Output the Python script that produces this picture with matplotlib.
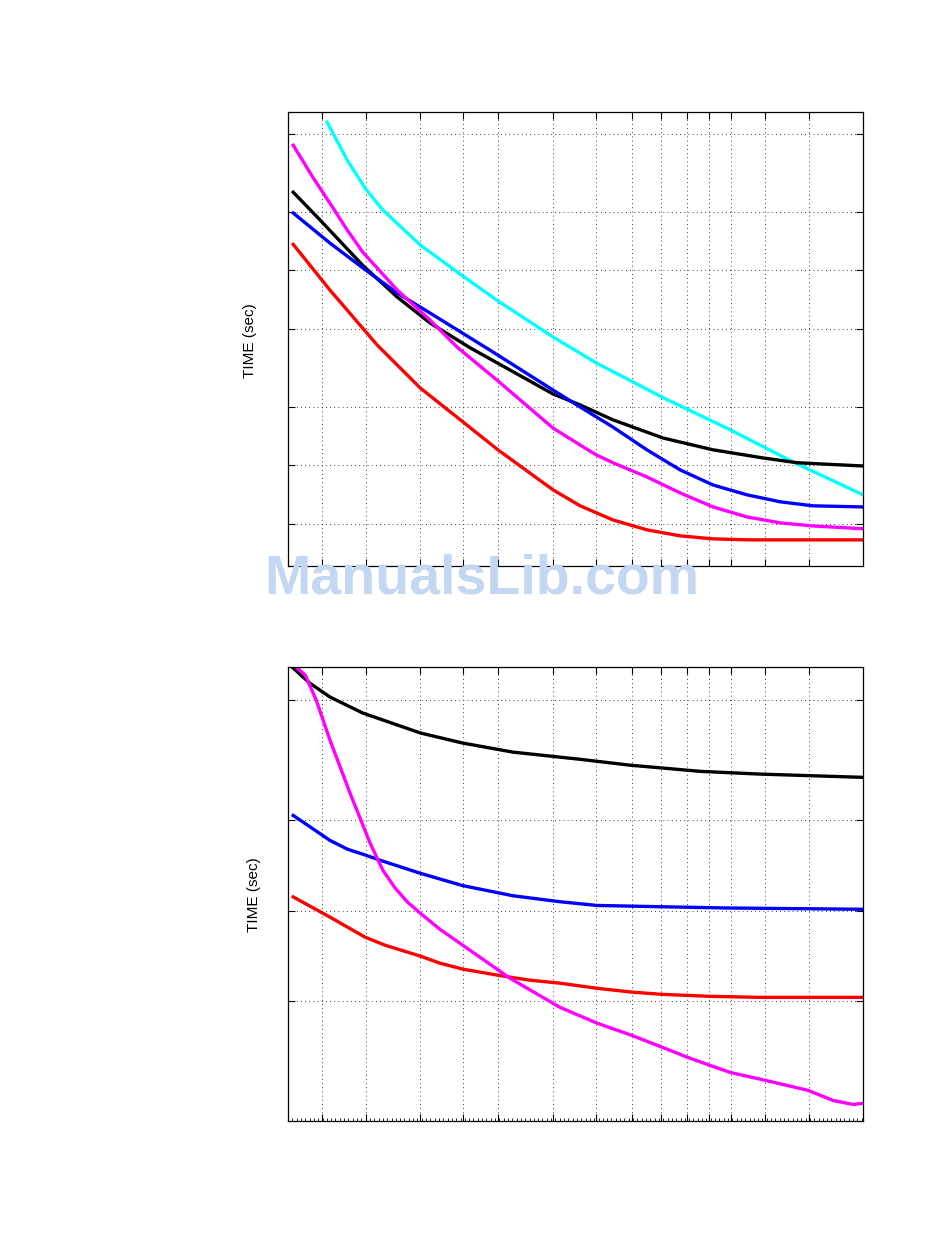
import matplotlib
matplotlib.use("Agg")
import matplotlib.pyplot as plt
from matplotlib.ticker import NullLocator, MultipleLocator

plt.rcParams["font.family"] = ["Liberation Sans", "DejaVu Sans"]

# x in arbitrary units (axis runs 0..100), y in sec on a log axis
XGRID = [5.9, 13.6, 23.0, 30.4, 36.5, 46.1, 53.6, 59.8, 64.9, 69.4, 73.2, 77.0, 83.0, 90.6]

# top panel
top_cyan_x = [6.8, 10.3, 13.4, 16.5, 23.0, 30.4, 36.3, 46.1, 53.6, 58.3, 65.0, 76.9, 87.8, 100]
top_cyan_y = [576, 368, 264, 204, 135, 93.5, 70.4, 45.5, 33.5, 28.4, 22.4, 15.2, 10.4, 7.05]

top_black_x = [0.9, 5.6, 13.0, 19.0, 24.7, 31.7, 46.1, 50.8, 56.5, 65.2, 73.9, 82.6, 88.5, 100]
top_black_y = [252, 181, 106, 72.9, 53.7, 40.0, 23.2, 20.4, 17.1, 13.8, 12.0, 10.9, 10.3, 9.91]

top_blue_x = [0.9, 7.3, 13.0, 19.0, 24.7, 35.1, 46.1, 50.8, 56.5, 62.4, 68.2, 73.9, 79.8, 85.6, 91.3, 100]
top_blue_y = [197, 138, 103, 76.5, 60.4, 39.0, 24.3, 19.9, 15.7, 12.0, 9.46, 7.92, 7.05, 6.49, 6.19, 6.11]

top_mag_x = [0.9, 4.3, 7.3, 10.3, 13.0, 19.0, 24.7, 29.4, 36.5, 46.1, 50.8, 53.6, 56.5, 62.4,
             68.2, 73.9, 79.8, 85.6, 91.3, 100]
top_mag_y = [439, 301, 221, 161, 124, 79.2, 55.6, 40.4, 27.1, 15.5, 12.7, 11.3, 10.3, 8.71,
             7.21, 6.11, 5.43, 5.06, 4.88, 4.72]

top_red_x = [0.9, 7.3, 15.5, 23.0, 30.4, 36.5, 46.1, 50.8, 56.5, 62.4, 68.2, 73.9, 79.8, 100]
top_red_y = [136, 79.2, 41.4, 24.9, 16.7, 12.0, 7.47, 6.19, 5.24, 4.66, 4.34, 4.19, 4.14, 4.14]

# bottom panel
bot_black_x = [0.9, 3.8, 7.3, 13.0, 23.0, 30.4, 39.1, 50.8, 59.5, 71.7, 82.1, 100]
bot_black_y = [63.9, 56.9, 51.2, 45.3, 38.9, 36.0, 33.6, 31.8, 30.4, 29.0, 28.4, 27.7]

bot_mag_x = [1.6, 3.0, 4.9, 7.3, 10.8, 14.3, 16.5, 18.6, 20.7, 23.0, 26.4, 30.4, 38.6, 47.3,
             53.7, 59.8, 65.0, 69.4, 73.4, 76.9, 83.0, 90.4, 94.8, 98.3, 100]
bot_mag_y = [64.0, 60.5, 50.0, 36.8, 24.5, 16.7, 13.6, 11.9, 10.7, 9.80, 8.67, 7.67, 5.96, 4.77,
             4.23, 3.85, 3.52, 3.26, 3.06, 2.90, 2.73, 2.53, 2.34, 2.27, 2.29]

bot_blue_x = [0.9, 7.3, 10.3, 13.4, 16.0, 23.0, 30.4, 39.1, 47.3, 53.7, 64.7, 76.3, 100]
bot_blue_y = [20.7, 17.1, 16.0, 15.3, 14.7, 13.3, 12.1, 11.2, 10.7, 10.4, 10.3, 10.2, 10.1]

bot_red_x = [0.9, 7.3, 13.4, 16.9, 23.0, 26.4, 30.4, 36.5, 42.1, 47.3, 53.7, 59.8, 65.0, 73.4, 82.1, 100]
bot_red_y = [11.1, 9.51, 8.16, 7.67, 7.06, 6.69, 6.39, 6.10, 5.87, 5.74, 5.52, 5.36, 5.27, 5.19, 5.15, 5.15]

TOP_YTICKS = [5, 10, 20, 50, 100, 200, 500]
BOT_YTICKS = [5, 10, 20, 50]

LW = 2.4


def style(ax, yticks, ylim, minor_x=False):
    ax.set_xlim(0, 100)
    ax.set_yscale("log")
    ax.set_ylim(*ylim)
    ax.set_xticks(XGRID)
    ax.set_yticks(yticks)
    ax.yaxis.set_minor_locator(NullLocator())
    if minor_x:
        ax.xaxis.set_minor_locator(MultipleLocator(0.75))
        ax.tick_params(axis="x", which="minor", direction="in", length=2,
                       width=0.6, top=False)
    else:
        ax.xaxis.set_minor_locator(NullLocator())
    ax.tick_params(which="major", direction="in", length=5, width=0.8,
                   top=True, right=True, labelbottom=False, labelleft=False)
    ax.grid(True, which="major", color="black", ls=(0, (1, 4)), lw=0.6)
    for s in ax.spines.values():
        s.set_linewidth(0.9)


fig = plt.figure(figsize=(9.5, 12.6), dpi=100)
ax1 = fig.add_axes([0.3032, 0.5508, 0.6053, 0.3603])
ax2 = fig.add_axes([0.3032, 0.1103, 0.6053, 0.3603])

ax1.plot(top_cyan_x, top_cyan_y, color="#00ffff", lw=LW)
ax1.plot(top_black_x, top_black_y, color="black", lw=LW)
ax1.plot(top_blue_x, top_blue_y, color="#0000ff", lw=LW)
ax1.plot(top_mag_x, top_mag_y, color="#ff00ff", lw=LW)
ax1.plot(top_red_x, top_red_y, color="#ff0000", lw=LW)
style(ax1, TOP_YTICKS, (3.04, 650))

ax2.plot(bot_black_x, bot_black_y, color="black", lw=LW)
ax2.plot(bot_blue_x, bot_blue_y, color="#0000ff", lw=LW)
ax2.plot(bot_red_x, bot_red_y, color="#ff0000", lw=LW)
ax2.plot(bot_mag_x, bot_mag_y, color="#ff00ff", lw=LW)
style(ax2, BOT_YTICKS, (2.0, 64.4), minor_x=True)

fig.text(0.263, 0.730, "TIME (sec)", rotation=90, ha="center", va="center", fontsize=11)
fig.text(0.267, 0.290, "TIME (sec)", rotation=90, ha="center", va="center", fontsize=11)

# watermark
fig.text(0.507, 0.540, "ManualsLib.com", ha="center", va="center", fontsize=40,
         fontweight="bold", color="#c3d7f2", zorder=10)

fig.savefig("out.png", dpi=100)
